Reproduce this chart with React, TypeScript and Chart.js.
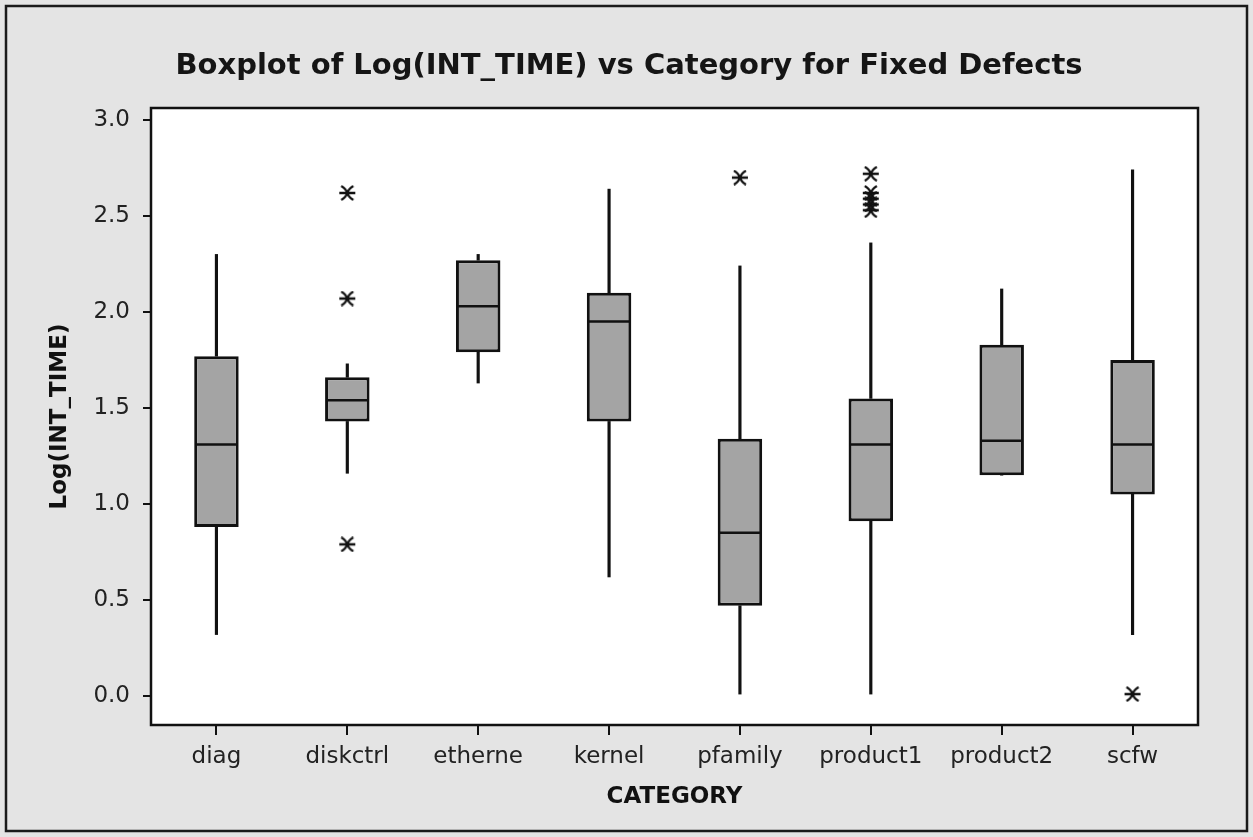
import React, { useEffect, useRef } from "react";
import { Chart, registerables } from "chart.js";

Chart.register(...registerables);

const categories = ["diag", "diskctrl", "etherne", "kernel", "pfamily", "product1", "product2", "scfw"];
const whiskerLow = [0.32, 1.16, 1.63, 0.62, 0.01, 0.01, 1.15, 0.32];
const q1 = [0.88, 1.43, 1.79, 1.43, 0.47, 0.91, 1.15, 1.05];
const median = [1.31, 1.54, 2.03, 1.95, 0.85, 1.31, 1.33, 1.31];
const q3 = [1.77, 1.66, 2.27, 2.1, 1.34, 1.55, 1.83, 1.75];
const whiskerHigh = [2.3, 1.73, 2.3, 2.64, 2.24, 2.36, 2.12, 2.74];

const outlierCategory = ["diskctrl", "diskctrl", "diskctrl", "pfamily", "product1", "product1", "product1", "product1", "product1", "scfw"];
const outlierValue = [2.62, 2.07, 0.79, 2.7, 2.72, 2.62, 2.59, 2.56, 2.53, 0.01];

const yTicks = [0, 0.5, 1.0, 1.5, 2.0, 2.5, 3.0];
const yMin = -0.151;
const yMax = 3.0625;

const TITLE = "Boxplot of Log(INT_TIME) vs Category for Fixed Defects";
const X_TITLE = "CATEGORY";
const Y_TITLE = "Log(INT_TIME)";

const FONT = "'DejaVu Sans', Verdana, sans-serif";

function makeSymbol(): HTMLCanvasElement {
  const c = document.createElement("canvas");
  c.width = 18;
  c.height = 16;
  const ctx = c.getContext("2d")!;
  ctx.strokeStyle = "#111";
  ctx.lineWidth = 2.3;
  ctx.beginPath();
  ctx.moveTo(1, 8);
  ctx.lineTo(17, 8);
  ctx.moveTo(3, 1);
  ctx.quadraticCurveTo(14, 8, 3, 15);
  ctx.moveTo(15, 1);
  ctx.quadraticCurveTo(4, 8, 15, 15);
  ctx.stroke();
  return c;
}

const framePlugin = {
  id: "frame",
  beforeDraw(chart: any) {
    const { ctx, chartArea: a, width, height } = chart;
    ctx.save();
    ctx.fillStyle = "#e4e4e4";
    ctx.fillRect(0, 0, width, height);
    ctx.strokeStyle = "#1a1a1a";
    ctx.lineWidth = 2.5;
    ctx.strokeRect(6, 6, width - 12, height - 12);
    ctx.fillStyle = "#ffffff";
    ctx.fillRect(a.left, a.top, a.right - a.left, a.bottom - a.top);
    ctx.fillStyle = "#151515";
    ctx.font = "bold 29px " + FONT;
    ctx.textAlign = "center";
    ctx.textBaseline = "middle";
    ctx.fillText(TITLE, 629, 66);
    ctx.restore();
  },
  afterDraw(chart: any) {
    const { ctx, chartArea: a } = chart;
    ctx.save();
    ctx.strokeStyle = "#111";
    ctx.lineWidth = 2.5;
    ctx.strokeRect(a.left, a.top, a.right - a.left, a.bottom - a.top);
    ctx.restore();
  },
};

export default function App() {
  const ref = useRef<HTMLCanvasElement | null>(null);
  useEffect(() => {
    if (!ref.current) return;
    Chart.defaults.font.family = FONT;
    const symbol = makeSymbol();
    const boxBg = "#a4a4a4";
    const chart = new Chart(ref.current, {
      type: "bar",
      data: {
        labels: categories,
        datasets: [
          {
            type: "line",
            data: outlierCategory.map((c, i) => ({ x: c, y: outlierValue[i] })),
            showLine: false,
            pointStyle: symbol,
            pointRadius: 8,
            borderColor: "#111",
            backgroundColor: "#111",
          } as any,
          {
            type: "line",
            data: categories.map((c, i) => ({ x: c, y: median[i] })),
            showLine: false,
            pointStyle: "line",
            pointRadius: 21,
            pointBorderWidth: 2.5,
            borderColor: "#111",
            backgroundColor: "#111",
          } as any,
          {
            data: categories.map((_, i) => [q1[i], q3[i]]),
            backgroundColor: boxBg,
            borderColor: "#111",
            borderWidth: 3,
            borderSkipped: false,
            grouped: false,
            barPercentage: 0.34,
            categoryPercentage: 1,
          } as any,
          {
            data: categories.map((_, i) => [q3[i], whiskerHigh[i]]),
            backgroundColor: "#111",
            borderWidth: 0,
            grouped: false,
            barThickness: 2.5,
          } as any,
          {
            data: categories.map((_, i) => [whiskerLow[i], q1[i]]),
            backgroundColor: "#111",
            borderWidth: 0,
            grouped: false,
            barThickness: 2.5,
          } as any,
        ],
      },
      options: {
        responsive: false,
        animation: false,
        layout: { padding: { left: 0, right: 55, top: 108, bottom: 0 } },
        plugins: {
          legend: { display: false },
          tooltip: { enabled: false },
          title: { display: false },
        },
        scales: {
          x: {
            type: "category",
            offset: true,
            border: { display: false },
            grid: {
              offset: false,
              drawOnChartArea: false,
              drawTicks: true,
              tickLength: 10,
              color: "#111",
              lineWidth: 2,
            },
            ticks: { color: "#222", font: { size: 23 }, padding: 8, maxRotation: 0, autoSkip: false },
            title: {
              display: true,
              text: X_TITLE,
              color: "#111",
              font: { size: 23, weight: "bold" },
              padding: { top: 0, bottom: 26 },
            },
            afterFit(scale: any) {
              scale.height = 112;
            },
          },
          y: {
            type: "linear",
            min: yMin,
            max: yMax,
            border: { display: false },
            grid: {
              drawOnChartArea: false,
              drawTicks: true,
              tickLength: 8,
              color: "#111",
              lineWidth: 2,
            },
            afterBuildTicks(scale: any) {
              scale.ticks = yTicks.map((v) => ({ value: v }));
            },
            ticks: {
              color: "#222",
              font: { size: 23 },
              padding: 13,
              callback: (v: any) => Number(v).toFixed(1),
            },
            title: {
              display: true,
              text: Y_TITLE,
              color: "#111",
              font: { size: 23, weight: "bold" },
              padding: { top: 46, bottom: 0 },
            },
            afterFit(scale: any) {
              scale.width = 151;
            },
          },
        },
      },
      plugins: [framePlugin],
    });
    return () => chart.destroy();
  }, []);
  return (
    <div style={{ position: "fixed", left: 0, top: 0, width: 1253, height: 837 }}>
      <canvas ref={ref} width={1253} height={837} />
    </div>
  );
}
